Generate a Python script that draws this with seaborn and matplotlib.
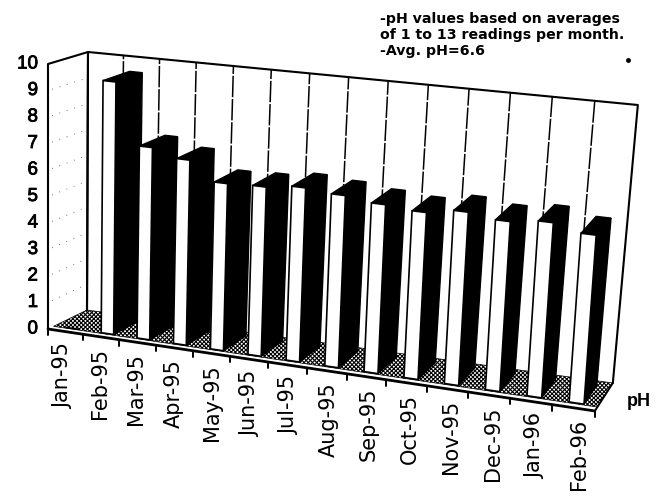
import numpy as np
import matplotlib
matplotlib.use("Agg")
import matplotlib.pyplot as plt
import matplotlib.patheffects as pe
from matplotlib.patches import Polygon
from matplotlib.transforms import Affine2D, Transform
import seaborn as sns

# Data

months = ["Jan-95", "Feb-95", "Mar-95", "Apr-95", "May-95", "Jun-95", "Jul-95",
          "Aug-95", "Sep-95", "Oct-95", "Nov-95", "Dec-95", "Jan-96", "Feb-96"]
ph_values = [0, 9.5, 7.2, 6.9, 6.2, 6.25, 6.4, 6.3, 6.15, 6.05, 6.25, 6.1, 6.25, 6.0]
y_ticks = [0, 1, 2, 3, 4, 5, 6, 7, 8, 9, 10]
notes = ["-pH values based on averages",
         "of 1 to 13 readings per month.",
         "-Avg. pH=6.6"]

W, H = 664, 497
N = len(months)
BAR_WIDTH = 0.35
D0, D1 = 0.17, 0.86   # depth of bars front and back

# corners of the 3d box in image pixels: (right, top, back)
corners = {
    (0, 0, 0): (48, 329), (1, 0, 0): (595, 411),
    (0, 1, 0): (48, 64), (1, 1, 0): (615, 128),
    (0, 0, 1): (87, 310), (1, 0, 1): (613, 383),
    (0, 1, 1): (88, 52), (1, 1, 1): (638, 105),
}


def project(u, v, d):
    # u is slot position 0..N, v is the pH value, d is depth 0..1
    u, v, d = np.asarray(u, float), np.asarray(v, float) / 10, np.asarray(d, float)
    t = (35 * u + 0.29 * u ** 2) / 547   # columns widen to the right
    px = 0
    py = 0
    for (a, b, c), (cx, cy) in corners.items():
        w = (t if a else 1 - t) * (v if b else 1 - v) * (d if c else 1 - d)
        px = px + w * cx
        py = py + w * cy
    return px, py


class Oblique(Transform):
    # sends bar coordinates of the axes onto a plane of the 3d box
    input_dims = 2
    output_dims = 2

    def __init__(self, plane):
        super().__init__()
        self.plane = plane

    def transform_non_affine(self, values):
        values = np.asarray(values, float)
        px, py = project(values[:, 0] + 0.5, values[:, 1], self.plane)
        return np.column_stack([px, H - py])


sns.set_style("white")
plt.rcParams["font.family"] = ["Liberation Sans", "DejaVu Sans"]
plt.rcParams["hatch.linewidth"] = 0.8

fig = plt.figure(figsize=(W / 100, H / 100), dpi=100)
ax = fig.add_axes([0, 0, 1, 1])
pix = Affine2D().scale(1, -1).translate(0, H)


def box_line(us, vs, ds, **kw):
    x, y = project(us, vs, ds)
    ax.plot(x, y, transform=pix, clip_on=False, solid_capstyle="round", **kw)


def box_poly(us, vs, ds, **kw):
    x, y = project(us, vs, ds)
    ax.add_patch(Polygon(np.column_stack([x, y]), closed=True, transform=pix,
                         clip_on=False, **kw))


# Bars
sns.barplot(x=months, y=ph_values, color="white", saturation=1, width=BAR_WIDTH,
            edgecolor="black", linewidth=1.2, ax=ax)
ax.set_xlim(-0.5, N - 0.5)
ax.set_ylim(0, 10)
ax.axis("off")
bars = list(ax.patches[:N])

# Walls and floor
for v in y_ticks[1:-1]:
    box_line([0, 0], [v, v], [0.1, 0.9], color="0.45", lw=0.7, ls=(0, (1, 7)), zorder=1)

for u in range(1, N):
    box_line([u, u], [0, 10], [1, 1], color="black", lw=1.1, ls=(0, (14, 1.2)), zorder=1)

box_poly([0, N, N, 0], [0, 0, 0, 0], [0.14, 0.14, 1, 1], facecolor="white",
         edgecolor="black", hatch="xxxxxxxx", lw=0.5, zorder=1.5)
box_line([0, 0, N, N], [0, 10, 10, 0], [1, 1, 1, 1], color="black", lw=1.5, zorder=2)
box_line([0, 0, 0, 0], [0, 10, 10, 0], [0, 0, 1, 1], color="black", lw=1.5, zorder=2)
box_line([N, N], [0, 0], [0, 1], color="black", lw=1.4, zorder=2)
box_line([0, N], [0, 0], [0, 0], color="black", lw=2, zorder=40)

for i, patch in enumerate(bars):
    left = patch.get_x() + 0.5
    right = left + patch.get_width()
    top = patch.get_height()
    patch.set_transform(Oblique(D0))
    patch.set_clip_on(False)
    patch.set_zorder(5 + 2 * i)
    if top == 0:
        continue
    box_poly([right, right, right, right], [0, top, top, 0], [D0, D0, D1, D1],
             facecolor="black", edgecolor="black", lw=1, zorder=4 + 2 * i)
    box_poly([left, right, right, left], [top, top, top, top], [D0, D0, D1, D1],
             facecolor="black", edgecolor="black", lw=1, zorder=4 + 2 * i)

# Ticks and labels
stroke = [pe.withStroke(linewidth=0.6, foreground="black")]

for u in range(N + 1):
    x, y = project(u, 0, 0)
    ax.plot([x, x], [y, y + 6], color="black", lw=1.4, transform=pix, clip_on=False, zorder=41)

for i, name in enumerate(months):
    x, y = project(i + 0.5, 0, 0)
    ax.text(x - 2 + 0.55 * i, y + 11, name, rotation=90, ha="center", va="top", fontsize=15,
            family="DejaVu Sans", transform=pix, color="black")

for v in y_ticks:
    x, y = project(0, v, 0)
    ax.text(x - 10, y, str(v), ha="right", va="center", fontsize=13.5,
            transform=pix, color="black", path_effects=stroke)

ax.text(627, 402, "pH", ha="left", va="center", fontsize=13, fontweight="bold",
        transform=pix, color="black")

for i, line in enumerate(notes):
    ax.text(380, 19 + 16 * i, line, ha="left", va="center", fontsize=10.2,
            family="DejaVu Sans", fontweight="bold", transform=pix, color="black")

ax.plot([628], [60], marker="o", ms=2.5, color="black", transform=pix, clip_on=False)

fig.savefig("out.png", dpi=100)
